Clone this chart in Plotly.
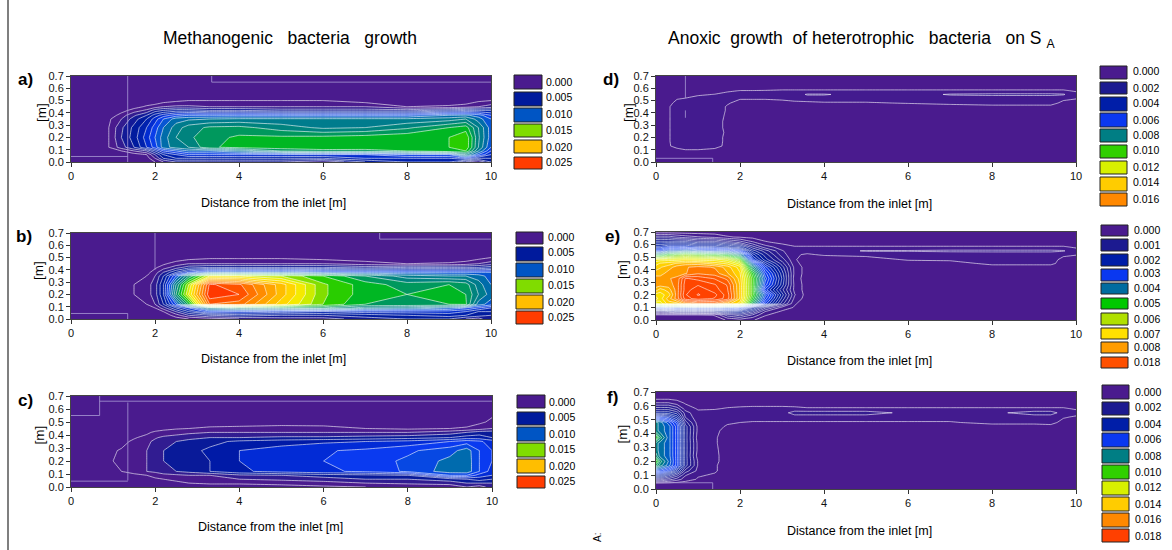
import numpy as np
import plotly.graph_objects as go

W, H = 1172, 550
FONT = "Liberation Sans"

# ---- value arrays (growth rates, in thousandths) ----
x_ticks = [0, 2, 4, 6, 8, 10]
y_ticks = [0.0, 0.1, 0.2, 0.3, 0.4, 0.5, 0.6, 0.7]
y_tick_text = ["0.0", "0.1", "0.2", "0.3", "0.4", "0.5", "0.6", "0.7"]
x_title = "Distance from the inlet [m]"

x_left = [0, .9, 1.2, 1.5, 1.8, 2, 2.2, 2.5, 2.8, 3.3, 4, 5, 6, 7, 8, 9, 9.4, 9.7, 10]
y_left = [0, .03, .06, .09, .12, .2, .28, .35, .38, .42, .45, .5, .7]

z_a = [
    [0,0,0,0,0,1,2,3,3,3,3,3,2,4,5,5,3,2,4],
    [0,0,0,0,.5,2,4,5,5,5,5,5,5,6,6,6,7,5,5],
    [0,0,.2,.5,1,3,5,6,7,7,7,7,7,7,8,8,11,8,6],
    [0,.2,1,2,3,5,7,8,9,9,10,12,12.5,12.5,13,14,14,10,7],
    [0,1,2.5,4,6,7.5,9.5,10.5,11,12.8,13.4,13.6,13.8,13.7,13.8,14,14.8,11,8],
    [0,1,3,4.5,6.5,8,9.5,11,11.8,12.6,13.2,13.2,13.3,13.5,13.8,14,14.8,11.2,8.5],
    [0,1,2.8,4.3,6,7.5,9,10.5,11.5,12.2,12.3,11.5,10.8,11,11.8,13,13.5,11,8.5],
    [0,.8,2,3.5,5,6.5,8,9.5,9.8,10,10.2,10.2,10.2,10.2,10.2,10.5,11,9.5,8],
    [0,.2,1.5,2.8,4,5.5,6.5,7.5,8,8,8,8,8,8,8,9,9.2,8.5,7],
    [0,0,.5,1.5,2.2,3.5,4,4.5,4.5,4,4,3.5,3.5,3.5,3.5,4.5,5,5,5],
    [0,0,0,.5,1.2,1.5,2,2.2,2.2,2,2,2,2,2,1,1.2,1.5,2,2.5],
    [0,0,0,0,0,.2,.5,.8,1,1,1,1,1,.5,.2,.2,.3,.8,1],
    [0]*19,
]
z_b = [
    [0,0,0,0,0,0,0,.5,1,1.5,2,2.5,2.5,3.5,4,4,3,2.5,4],
    [0,0,0,0,0,0,.3,1.5,3,4,4.5,4,4,4.5,5,5.5,5,4.5,4],
    [0,0,0,0,0,.3,1,3,5,7.5,7,6.5,6,6.5,6.5,6.5,6,5,5],
    [0,0,0,0,.3,1,2.5,5,7,11,12,12,12,10.5,10,9,8,7,6],
    [0,0,0,.5,1,2,4,8,13,23,22.5,18.5,15,13,13,13,13.2,9.5,8.5],
    [0,0,0,1,1.5,2.5,5,12,17,24.8,24,19.5,15.2,13.5,13,13.2,13,11,9.5],
    [0,0,0,1,1.5,2.5,5,11,16,24.2,23.2,19.5,15.2,13.5,12.5,13,12.5,10.5,9],
    [0,0,0,.3,1,2,4,8,12,17,17,16,14,12,10.5,10,10,9.5,8.5],
    [0,0,0,0,.6,1.5,3,5,7,9,9,9,8.5,8,8,8,8,8,8],
    [0,0,0,0,0,.8,1.5,2.5,3.5,4,4,4,4,3.5,4,4,4,4,4.5],
    [0,0,0,0,0,.2,.8,1.5,2,2,2,2,2,1.5,1,1.2,1.5,2,2.5],
    [0,0,0,0,0,0,0,.2,.5,.8,.8,.8,.5,.2,0,0,.2,.6,1],
    [0]*19,
]
z_c = [
    [0,0,0,0,0,0,0,.2,.3,.3,.3,.5,.8,1,1.2,1.2,2,1.5,2.5],
    [0,0,0,0,0,.3,.6,.8,1,1.2,1.2,1.4,1.6,2,2.2,2.5,3,3,3],
    [0,0,0,.1,.5,.8,1,1.2,1.4,2,2,2.2,2.5,3,3,3.5,4,4.5,4],
    [0,.3,.5,.8,1,1.4,1.6,1.8,2,2,2.8,3,3.5,3.7,4,7,7,5.5,5],
    [0,.8,1,1.3,2,2.2,2.7,3,3.3,4,4.8,5.4,5.8,6.2,7.2,8.5,8.6,7,5.5],
    [0,.9,1.2,1.6,2,2.5,3,3.4,3.7,4,5,5.7,6,6.5,7.2,8.3,8.6,7,6],
    [0,.8,1.1,1.4,2,2.5,3,3.4,3.7,4.2,5,5.5,5.9,6.2,6.8,7.6,8.5,7,6],
    [0,.3,.7,1.2,1.8,2.2,2.8,3,3.4,3.7,4.2,4.5,4.8,5,5.3,6,6.5,6.2,5.5],
    [0,0,.2,.9,1.3,1.9,2.2,2.4,2.6,3,3,3.2,3.2,3.4,3.6,4,4.5,4.5,4],
    [0,0,0,.2,.8,1.2,1.4,1.6,1.8,2,2,2,2,2,2,2.5,3,3.5,3.5],
    [0,0,0,0,.2,.5,.7,.9,1,1.2,1.3,1.5,1.4,1,.8,1,1.2,1.5,2],
    [0,0,0,0,0,0,0,.1,.3,.4,.4,.4,.4,.2,.1,.1,.3,.8,1.2],
    [0]*19,
]

x_right = [0,.1,.3,.5,.7,1,1.4,1.7,2,2.3,2.6,3,3.3,3.6,4,5,6,7,8,9,9.4,9.7,10]
y_right = [0,.04,.07,.1,.13,.17,.2,.24,.28,.33,.37,.42,.45,.48,.52,.55,.58,.62,.66,.7]

z_d = [
    [0]*23,
    [0]*23,
    [0]*23,
    [0,0,0,.15,.25,.25,.15,0,0,0,0,0,0,0,0,0,0,0,0,0,0,0,0],
    [0,0,.2,.4,.5,.5,.45,.1,0,0,0,0,0,0,0,0,0,0,0,0,0,0,0],
    [0,0,.2,.5,.5,.5,.5,.1,0,0,0,0,0,0,0,0,0,0,0,0,0,0,0],
    [0,0,.2,.5,.5,.5,.5,.1,0,0,0,0,0,0,0,0,0,0,0,0,0,0,0],
    [0,0,.2,.5,.5,.5,.5,.15,0,0,0,0,0,0,0,0,0,0,0,0,0,0,0],
    [0,0,.2,.5,.5,.5,.5,.1,0,0,0,0,0,0,0,0,0,0,0,0,0,0,0],
    [0,0,.2,.5,.5,.5,.5,.1,0,0,0,0,0,0,0,0,0,0,0,0,0,0,0],
    [0,0,.2,.5,.5,.5,.5,.15,0,0,0,0,0,0,0,0,0,0,0,0,0,0,0],
    [0,0,.2,.5,.5,.5,.5,.2,0,0,0,0,0,0,0,0,0,0,0,0,0,0,0],
    [0,0,.2,.5,.5,.5,.5,.2,.02,0,0,0,0,0,0,0,0,0,.1,.1,.1,0,0],
    [0,0,.1,.4,.5,.5,.5,.3,.1,.1,.1,.1,.1,.15,.2,.2,.28,.4,.45,.45,.45,.1,0],
    [0,0,0,.2,.25,.35,.45,.4,.3,.3,.3,.35,.5,.5,.5,.5,.5,.5,.5,.5,.5,.4,.3],
    [0,0,0,0,.1,.2,.26,.35,.5,.5,.5,.5,.5,.8,.8,.5,.5,.8,.85,.85,.85,.8,.4],
    [0,0,0,0,0,.05,.1,.2,.26,.26,.27,.3,.3,.3,.3,.3,.3,.3,.3,.3,.3,.3,.2],
    [0]*23,
    [0]*23,
    [0]*23,
]
z_e = [
    [0,0,0,0,0,0,0,.3,.5,.3,0,0,0,0,0,0,0,0,0,0,0,0,0],
    [0,0,0,0,0,0,.3,1.5,2,1.2,.3,0,0,0,0,0,0,0,0,0,0,0,0],
    [2,2,2.5,3,3,3,3,3.5,3.5,2.5,.8,.2,0,0,0,0,0,0,0,0,0,0,0],
    [6,6.5,7,7,7,7,7,7,6.5,4,2,.6,.2,0,0,0,0,0,0,0,0,0,0],
    [12.5,13,14,14,15,15.5,15.5,14.5,13.5,9,5,2,.3,0,0,0,0,0,0,0,0,0,0],
    [14,13.5,14.5,15.5,17,17.5,17.2,16.5,14.2,10,6,2.6,.6,0,0,0,0,0,0,0,0,0,0],
    [13.5,13.5,14,15.5,17.2,17.8,17.4,16.5,14.2,10.5,6.5,3,.8,0,0,0,0,0,0,0,0,0,0],
    [14.5,14,14.5,15.5,17,17.6,17,16.3,14.2,10.5,5,2.4,.6,0,0,0,0,0,0,0,0,0,0],
    [15,15,15,15.5,17,17.2,16.8,16.2,14.2,10.5,6,3,.6,0,0,0,0,0,0,0,0,0,0],
    [15,15,15.2,15.4,16.8,16.6,16.2,15.6,14,10.5,6.5,3.2,.5,0,0,0,0,0,0,0,0,0,0],
    [14.5,14.5,15,15,15.2,15.7,15.5,14.8,13.8,10,6,3,.6,0,0,0,0,0,0,0,0,0,0],
    [14,14.2,14.5,15,15.2,15.4,15.2,14.5,13.5,8.5,5,2.5,.6,0,0,0,0,0,0,0,0,0,0],
    [13.5,13.8,14,14.3,14.5,14.5,14,13.6,12.5,7,4,2,.4,0,0,0,0,0,.4,.4,.4,0,0],
    [13,13,13,13,13.2,13,13,12.5,11,5,3,1.5,.3,0,0,0,.3,.35,.45,.45,.45,.1,0],
    [9,9,10,10.5,11,10.5,10,9.5,8,4,2.5,1,.3,.2,.3,.4,.4,.45,.5,.5,.5,.35,.28],
    [6,6,7,7,7.5,7,6.5,6.5,5.5,3,2,.8,.4,.4,.45,.8,.8,.85,.85,.85,.85,.8,.4],
    [4.5,4.5,5,5,5,4.5,4.5,4,3.5,2,1,.5,.3,.3,.3,.3,.3,.3,.3,.3,.3,.3,.2],
    [3,3,3,3,3,2.5,2.5,2,1.5,.8,.3,.1,0,0,0,0,0,0,0,0,0,0,0],
    [1.5,1.5,1.5,1.2,1,.8,.6,.3,.2,.1,0,0,0,0,0,0,0,0,0,0,0,0,0],
    [0]*23,
]
z_f = [
    [0]*23,
    [0]*23,
    [2,2,1.5,1,.5,.2,.05,0,0,0,0,0,0,0,0,0,0,0,0,0,0,0,0],
    [4,4,3,2,.8,.3,.2,0,0,0,0,0,0,0,0,0,0,0,0,0,0,0,0],
    [6,6,5,3.5,1.5,.6,.3,.05,0,0,0,0,0,0,0,0,0,0,0,0,0,0,0],
    [9,8,7,5.5,2.5,.7,.3,.05,0,0,0,0,0,0,0,0,0,0,0,0,0,0,0],
    [10.2,8.5,7.2,5.5,2.5,.7,.35,.05,0,0,0,0,0,0,0,0,0,0,0,0,0,0,0],
    [8.5,7.5,7,5.5,2.5,.5,.35,.05,0,0,0,0,0,0,0,0,0,0,0,0,0,0,0],
    [8,7.5,7,5.5,2.5,.6,.33,.05,0,0,0,0,0,0,0,0,0,0,0,0,0,0,0],
    [8,7.5,7,5.5,2.5,.6,.3,.05,0,0,0,0,0,0,0,0,0,0,0,0,0,0,0],
    [10.2,8.5,7,5.5,2.5,.5,.3,.05,0,0,0,0,0,0,0,0,0,0,0,0,0,0,0],
    [8,7.5,7,5.5,2.5,.6,.35,.1,0,0,0,0,0,0,0,0,0,0,0,0,0,0,0],
    [8,7.5,7,5.5,2.5,.6,.38,.2,.1,0,0,0,0,0,0,0,0,0,0,0,.1,0,0],
    [8,7.5,6.5,5,2,.5,.4,.3,.25,.2,.2,.2,.2,.2,.2,.2,.2,.2,.4,.4,.4,.1,0],
    [5,5,4.5,3.5,1.2,.4,.42,.45,.5,.5,.5,.5,.5,.5,.5,.5,.5,.5,.5,.5,.5,.3,.2],
    [3,3,3,2.5,1,.35,.45,.5,.5,.5,.5,.5,1,1,1,1,.6,.6,.6,1,1,.5,.4],
    [2,2,2,1.5,.5,.2,.2,.3,.32,.35,.35,.35,.35,.3,.3,.3,.3,.3,.3,.3,.3,.3,.2],
    [.8,.8,.8,.5,.2,0,0,0,.1,.1,.1,.1,.05,0,0,0,0,0,0,0,0,0,0],
    [0]*23,
    [0]*23,
]

legend_left_values = ["0.000", "0.005", "0.010", "0.015", "0.020", "0.025"]
legend_df_values = ["0.000", "0.002", "0.004", "0.006", "0.008", "0.010", "0.012", "0.014", "0.016", "0.018"]
legend_d_values = legend_df_values[:9]
legend_e_values = ["0.000", "0.001", "0.002", "0.003", "0.004", "0.005", "0.006", "0.007", "0.008", "0.018"]

legend_left_colors = ["#4a1b8e", "#001a9c", "#0055c4", "#80dc00", "#ffbe00", "#ff3c00"]
legend_df_colors = ["#4a1b8e", "#1c1a90", "#001ea8", "#0a38f0", "#007e84", "#30d000", "#d8f000", "#ffcc00", "#ff8800", "#ff4000"]
legend_e_colors = ["#4a1b8e", "#1c1a90", "#001ea8", "#0a38f0", "#006ca0", "#00c800", "#b0e000", "#ffe000", "#ff9c00", "#ff5000"]

# ---- colour per contour band: entry i fills the band from i to i+1 (thousandths) ----
bands_left = [
    "#4a1b8e", "#341c90", "#141a96", "#001a9c", "#001fa8", "#0028c8", "#0a38ec", "#0a4fe0", "#0065b8",
    "#007a90", "#007e88", "#008a70", "#00a848", "#00c400", "#48d400", "#a8e400", "#e0f000", "#ffe800",
    "#ffd000", "#ffb800", "#ffa000", "#ff8800", "#ff7000", "#ff5000", "#ff3800",
]
bands_c = [
    "#4a1b8e", "#341c90", "#0a1a98", "#0018a0", "#0028d0", "#0a38f0", "#0a3ff0", "#0062c0", "#007e88",
] + ["#007e88"] * 16
scale_right = [
    "#4a1b8e", "#2e1b90", "#1c1a90", "#001a9c", "#001ea8", "#0a38f0", "#0a38f0", "#0060c0", "#007e84", "#00a050",
    "#00c800", "#70d800", "#b8e800", "#f0f000", "#ffd800", "#ffa800", "#ff6000", "#ff4800", "#ff4000",
]

def by_level(colors):
    n = len(colors) - 1
    return [[i / n, c] for i, c in enumerate(colors)]

def by_band(colors):
    n = len(colors)
    stops = [[0, colors[0]]] + [[(i + .5) / n, c] for i, c in enumerate(colors)] + [[1, colors[-1]]]
    return stops

# ---- layout in pixels ----
panels = [
    dict(n="a", x=x_left, y=y_left, z=z_a, box=(71, 491, 76, 162), scale=by_band(bands_left), zmax=25, start=1, size=1,
         tag="a)", tag_xy=(25, 79), ytitle_x=41, xtitle_xy=(273, 203),
         swatch_x=(514, 542), swatch_y=[(75,89),(92,106),(108,122),(124,137),(140,153),(157,169)],
         label_x=545, label_y=[82,97,114,130,147,162], values=legend_left_values, colors=legend_left_colors,
         guides=[((1.35,0),(1.35,.7)),((0,.045),(1.35,.045)),((3.35,.65),(10,.65)),((3.35,.65),(3.35,.7))]),
    dict(n="b", x=x_left, y=y_left, z=z_b, box=(71, 491, 233, 319), scale=by_band(bands_left), zmax=25, start=1, size=1,
         tag="b)", tag_xy=(24, 236), ytitle_x=38, xtitle_xy=(273, 359),
         swatch_x=(516, 543), swatch_y=[(232,244),(247,261),(263,277),(279,293),(295,309),(311,324)],
         label_x=547, label_y=[237,252,269,285,302,317], values=legend_left_values, colors=legend_left_colors,
         guides=[((2,.4),(2,.7)),((0,.045),(1.35,.045)),((1.35,0),(1.35,.045)),((7.35,.65),(10,.65)),((7.35,.65),(7.35,.7))]),
    dict(n="c", x=x_left, y=y_left, z=z_c, box=(71, 492, 396, 487), scale=by_band(bands_c), zmax=25, start=1, size=1,
         tag="c)", tag_xy=(25, 400), ytitle_x=39, xtitle_xy=(270, 527),
         swatch_x=(517, 545), swatch_y=[(395,408),(412,425),(427,441),(443,457),(459,473),(476,488)],
         label_x=548, label_y=[402,417,434,449,466,481], values=legend_left_values, colors=legend_left_colors,
         guides=[((.68,.55),(.68,.7)),((0,.55),(.68,.55)),((.68,.66),(10,.66)),((1.35,.05),(1.35,.65)),((0,.045),(1.35,.045))]),
    dict(n="d", x=x_right, y=y_right, z=z_d, box=(656, 1076, 76, 162), scale=by_level(scale_right), zmax=18, start=.25, size=.5,
         tag="d)", tag_xy=(611, 79), ytitle_x=628, xtitle_xy=(859, 204),
         swatch_x=(1100, 1127), swatch_y=[(66,79),(82,94),(97,111),(113,127),(129,142),(145,158),(161,174),(177,191),(193,206)],
         label_x=1132, label_y=[71,88,103,120,135,150,167,182,199], values=legend_d_values, colors=legend_df_colors[:9],
         guides=[((0,.03),(1.35,.03)),((1.35,0),(1.35,.03)),((.7,.36),(.7,.42)),((.7,.52),(.7,.7))]),
    dict(n="e", x=x_right, y=y_right, z=z_e, box=(656, 1076, 232, 320), scale=by_level(scale_right), zmax=18, start=.25, size=.5,
         tag="e)", tag_xy=(612, 236), ytitle_x=622, xtitle_xy=(859, 361),
         swatch_x=(1101, 1128), swatch_y=[(225,236),(239,251),(254,266),(269,281),(283,294),(298,309),(313,325),(328,339),(342,353),(357,368)],
         label_x=1133, label_y=[230,245,260,273,288,303,319,334,347,362], values=legend_e_values, colors=legend_e_colors,
         guides=[((0,.04),(1.35,.04))]),
    dict(n="f", x=x_right, y=y_right, z=z_f, box=(656, 1076, 392, 489), scale=by_level(scale_right), zmax=18, start=.25, size=.5,
         tag="f)", tag_xy=(612, 397), ytitle_x=622, xtitle_xy=(859, 531),
         swatch_x=(1102, 1129), swatch_y=[(385,399),(402,415),(418,431),(433,447),(449,463),(465,479),(481,495),(497,511),(513,527),(529,542)],
         label_x=1134, label_y=[392,407,424,439,456,472,487,504,519,536], values=legend_df_values, colors=legend_df_colors,
         guides=[((0,.045),(1.35,.045)),((1.35,0),(1.35,.045))]),
]

def px(v):
    return v / W

def py(v):
    return 1 - v / H

fig = go.Figure()
layout = dict(
    width=W, height=H, margin=dict(l=0, r=0, t=0, b=0, pad=0, autoexpand=False),
    paper_bgcolor="white", plot_bgcolor="white",
    font=dict(family=FONT, size=11, color="#111"), showlegend=False, autosize=False,
)
shapes, annotations = [], []

def note(x, y, text, size=11, bold=False, xanchor="center", angle=0):
    annotations.append(dict(
        xref="paper", yref="paper", x=px(x), y=py(y), text=f"<b>{text}</b>" if bold else text,
        showarrow=False, xanchor=xanchor, yanchor="middle", textangle=angle,
        font=dict(family=FONT, size=size, color="#000"), borderpad=0,
    ))

for i, p in enumerate(panels, start=1):
    suffix = "" if i == 1 else str(i)
    left, right, top, bottom = p["box"]
    fig.add_trace(go.Contour(
        x=p["x"], y=p["y"], z=np.array(p["z"], dtype=float), xaxis=f"x{suffix}", yaxis=f"y{suffix}",
        colorscale=p["scale"], zmin=0, zmax=p["zmax"], showscale=False, hoverinfo="skip",
        contours=dict(coloring="fill", start=p["start"], end=p["zmax"], size=p["size"], showlines=True),
        line=dict(color="white", width=0.6, smoothing=0),
    ))
    axis_common = dict(
        showgrid=False, zeroline=False, showline=True, linecolor="#444", linewidth=1, mirror=True,
        ticks="outside", ticklen=4, tickwidth=1, tickcolor="#333",
        tickfont=dict(family=FONT, size=11, color="#111"),
    )
    layout[f"xaxis{suffix}"] = dict(
        domain=[px(left), px(right)], range=[0, 10], tickmode="array", tickvals=x_ticks,
        anchor=f"y{suffix}", **axis_common,
    )
    layout[f"yaxis{suffix}"] = dict(
        domain=[py(bottom), py(top)], range=[0, .7], tickmode="array", tickvals=y_ticks, ticktext=y_tick_text,
        anchor=f"x{suffix}", **axis_common,
    )
    for (x0, y0), (x1, y1) in p["guides"]:
        shapes.append(dict(type="line", xref=f"x{suffix}", yref=f"y{suffix}", x0=x0, y0=y0, x1=x1, y1=y1,
                           line=dict(color="#a99bd6", width=0.8), layer="above"))
    note(*p["tag_xy"], p["tag"], size=17, bold=True)
    note(p["ytitle_x"], (top + bottom) / 2 - 6, "[m]", size=13.5, angle=-90)
    note(*p["xtitle_xy"], x_title, size=12.5)
    sx0, sx1 = p["swatch_x"]
    for (sy0, sy1), ly, val, col in zip(p["swatch_y"], p["label_y"], p["values"], p["colors"]):
        shapes.append(dict(type="rect", xref="paper", yref="paper", x0=px(sx0), x1=px(sx1), y0=py(sy1), y1=py(sy0),
                           fillcolor=col, line=dict(color="#222", width=1), layer="above"))
        note(p["label_x"], ly, val, size=10.5, xanchor="left")

# Titles
note(290, 38, "Methanogenic\u00a0\u00a0\u00a0bacteria\u00a0\u00a0\u00a0growth", size=17.5)
note(862, 39, "Anoxic\u00a0\u00a0growth\u00a0\u00a0of heterotrophic\u00a0\u00a0\u00a0bacteria\u00a0\u00a0\u00a0on S <sub>A</sub>", size=17.5)

# Page edge line and stray glyph on the scanned page
shapes.append(dict(type="line", xref="paper", yref="paper", x0=px(8), x1=px(8), y0=0, y1=1,
                   line=dict(color="#555", width=1.5)))
note(597, 538, "A:", size=10, angle=-90)

layout["shapes"] = shapes
layout["annotations"] = annotations
fig.update_layout(**layout)
fig.write_html(
    "out.html",
    config={"displayModeBar": False},
    post_script="document.documentElement.style.overflow='hidden';document.body.style.margin='0';document.body.style.padding='0';window.scrollTo(0,0);",
)
